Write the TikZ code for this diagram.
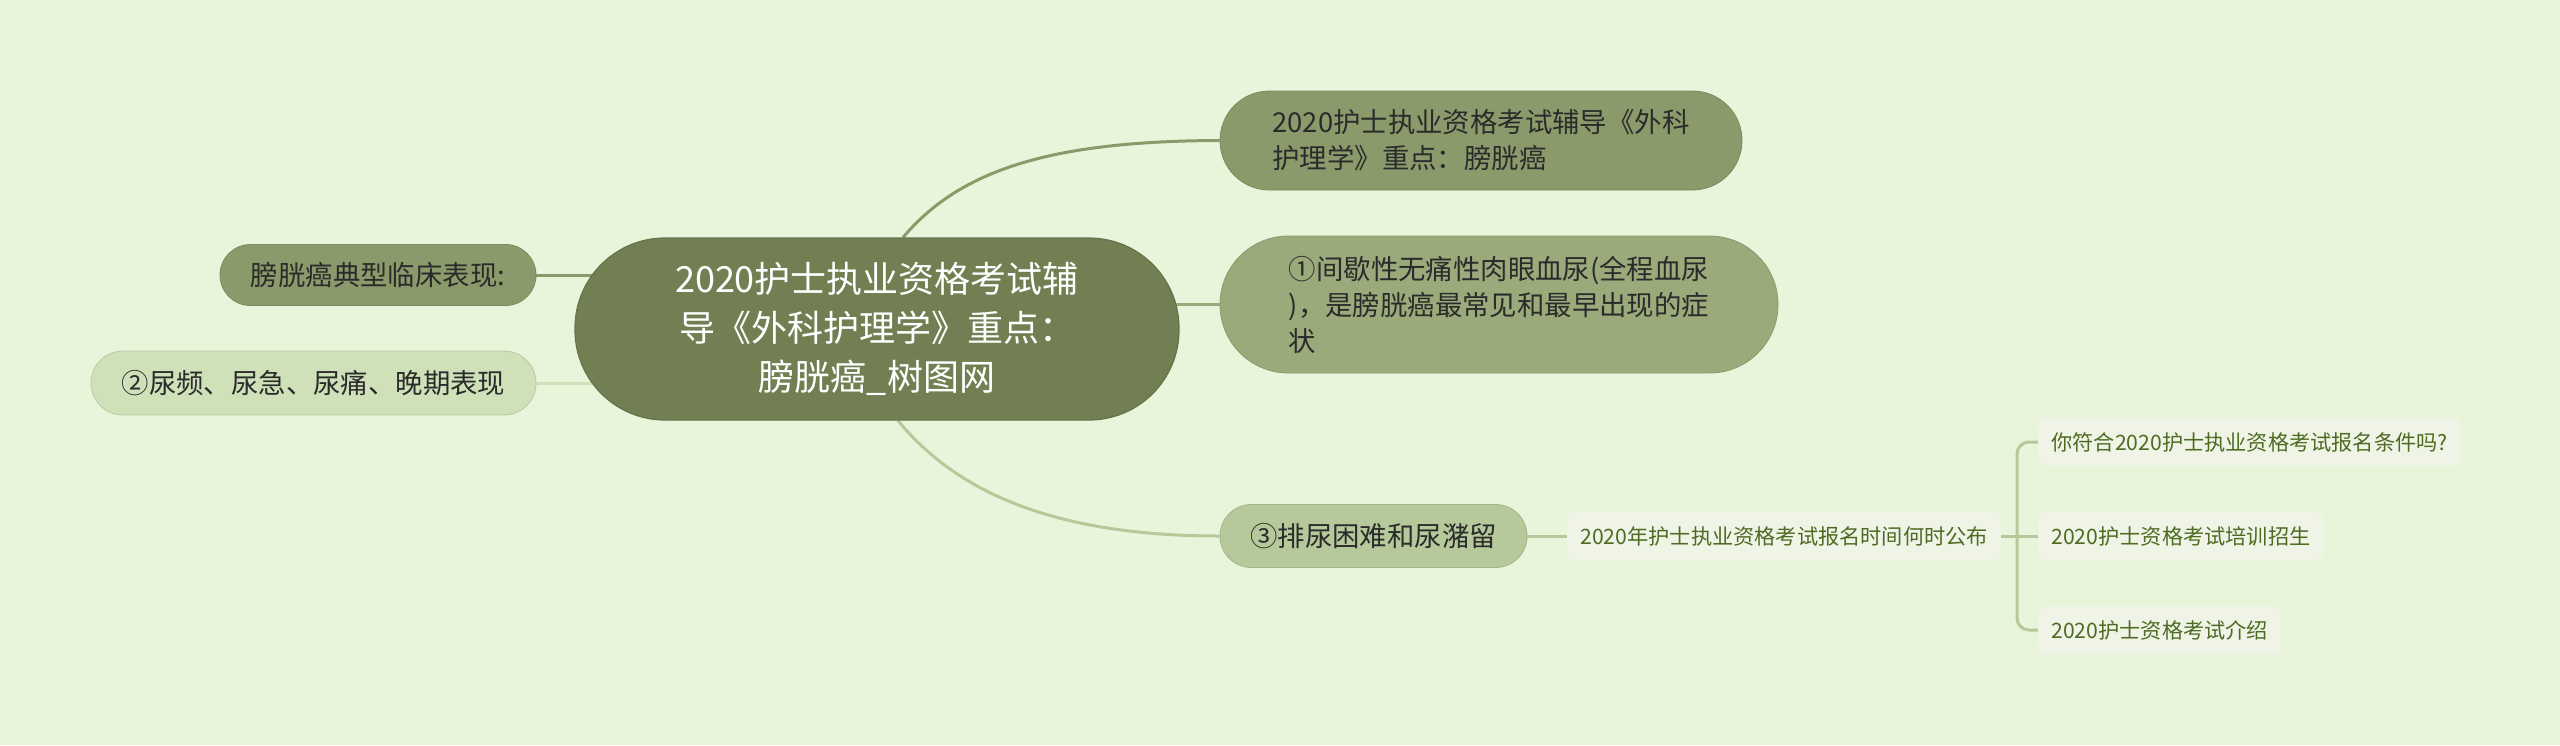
\documentclass[tikz,border=0pt]{standalone}
\usepackage{fontspec}
\setmainfont{Noto Sans CJK SC}
\usetikzlibrary{calc}
\pgfdeclarelayer{back}
\pgfdeclarelayer{bg}
\pgfsetlayers{back,bg,main}
\definecolor{bgcol}{HTML}{E8F5DB}
\definecolor{cenfill}{HTML}{727F52}
\definecolor{cenedge}{HTML}{66734A}
\definecolor{fillA}{HTML}{8A9A6A}
\definecolor{fillB}{HTML}{9AAA7A}
\definecolor{fillC}{HTML}{B5C99B}
\definecolor{fillD}{HTML}{CEE1B8}
\definecolor{leaffill}{HTML}{EFF4E7}
\definecolor{leaftext}{HTML}{4E6B22}
\definecolor{darktext}{HTML}{2B2B2B}
\tikzset{
  censtyle/.style={fill=cenfill, draw=cenedge, line width=0.6pt, text=white, align=center,
    minimum width=302pt, minimum height=91pt, rounded corners=45pt, inner sep=0pt,
    font=\fontsize{18pt}{24.5pt}\selectfont},
  pill/.style={text=darktext, align=left, inner sep=0pt, font=\fontsize{13.7pt}{18pt}\selectfont},
  leafbox/.style={fill=leaffill, text=leaftext, anchor=west, inner xsep=6.5pt, inner ysep=0pt,
    minimum height=24pt, rounded corners=4pt, font=\fontsize{10.6pt}{13pt}\selectfont},
  conn/.style={line width=1.5pt},
}
\begin{document}
\begin{tikzpicture}[x=0.5pt,y=-0.5pt]
\begin{pgfonlayer}{back}
\fill[bgcol] (0,0) rectangle (2560,745);
\end{pgfonlayer}
\useasboundingbox (0,0) rectangle (2560,745);

\node[censtyle] (cen) at (877,329) {2020护士执业资格考试辅\\导《外科护理学》重点：\\膀胱癌\_树图网};

\node[pill, fill=fillA, draw=fillA!90!black, line width=0.4pt, minimum width=261pt, minimum height=49.5pt, rounded corners=24.7pt] (n1) at (1481,140.5)
  {2020护士执业资格考试辅导《外科\\护理学》重点：膀胱癌};
\node[pill, fill=fillB, draw=fillB!90!black, line width=0.4pt, minimum width=279pt, minimum height=68.5pt, rounded corners=34.2pt] (n2) at (1499,304.5)
  {①间歇性无痛性肉眼血尿(全程血尿\\)，是膀胱癌最常见和最早出现的症\\状};
\node[pill, fill=fillC, draw=fillC!90!black, line width=0.4pt, minimum width=153.5pt, minimum height=31.5pt, rounded corners=15.7pt] (n3) at (1373.5,536)
  {③排尿困难和尿潴留};
\node[pill, fill=fillA, draw=fillA!90!black, line width=0.4pt, minimum width=158pt, minimum height=30.5pt, rounded corners=15.2pt] (n4) at (378,275)
  {膀胱癌典型临床表现:};
\node[pill, fill=fillD, draw=fillD!90!black, line width=0.4pt, minimum width=222.5pt, minimum height=32pt, rounded corners=16pt] (n5) at (313.5,383)
  {②尿频、尿急、尿痛、晚期表现};

\node[leafbox] (n6) at (1567,536) {2020年护士执业资格考试报名时间何时公布};
\node[leafbox] (n7) at (2038,442) {你符合2020护士执业资格考试报名条件吗?};
\node[leafbox] (n8) at (2038,536) {2020护士资格考试培训招生};
\node[leafbox] (n9) at (2038,630) {2020护士资格考试介绍};

\coordinate (br) at (2017,536);

\begin{pgfonlayer}{bg}
\draw[conn, draw=fillA] ($(cen.north)+(26,0)$) .. controls (960,170) and (1050,141) .. (n1.west);
\draw[conn, draw=fillB] (n2.west) -- (n2.west -| cen.center);
\draw[conn, draw=fillC] ($(cen.south)+(21,0)$) .. controls (955,490) and (1050,536) .. (n3.west);
\draw[conn, draw=fillA] (n4.east) -- (n4.east -| cen.center);
\draw[conn, draw=fillD] (n5.east) -- (n5.east -| cen.center);
\draw[conn, draw=fillC] (n3.east) -- (n6.west);
\draw[conn, draw=fillC] (n6.east) -- (n8.west);
\draw[conn, draw=fillC, rounded corners=6pt] (n7.west) -| (br) |- (n9.west);
\end{pgfonlayer}
\end{tikzpicture}
\end{document}
